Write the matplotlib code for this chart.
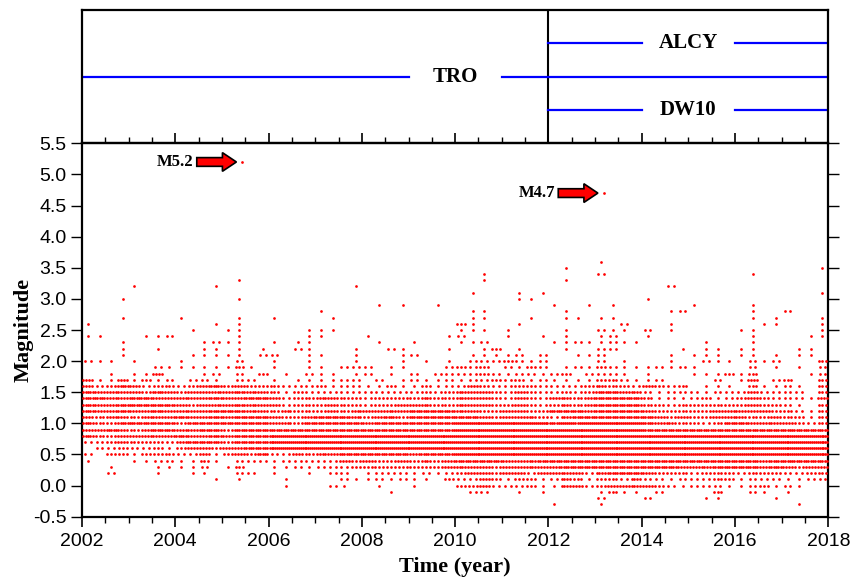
import numpy as np
import matplotlib.pyplot as plt
from matplotlib.patches import FancyArrow

plt.rcParams['axes.unicode_minus'] = False

SANS = 'Liberation Sans'
SERIF = 'Liberation Serif'

# catalogue: event counts per 0.25-year bin (2002-2018),
# one string per magnitude level, groups of 16 bins = 4 years
YEAR_START = 2002
BIN_WIDTH = 0.25

MAG_LEVELS = [3.6, 3.5, 3.4, 3.3, 3.2, 3.1, 3.0, 2.9, 2.8, 2.7,
              2.6, 2.5, 2.4, 2.3, 2.2, 2.1, 2.0, 1.9, 1.8, 1.7,
              1.6, 1.5, 1.4, 1.3, 1.2, 1.1, 1.0, 0.9, 0.8, 0.7,
              0.6, 0.5, 0.4, 0.3, 0.2, 0.1, 0.0, -0.1, -0.2, -0.3]

EVENT_COUNTS = [
    "0000000000000000 0000000000000000 0000000000001000 0000000000000000",  # 3.6
    "0000000000000000 0000000000000000 0000000001000000 0000000000000001",  # 3.5
    "0000000000000000 0000000000000000 0010000000002000 0000000001000000",  # 3.4
    "0000000000000100 0000000000000000 0010000001000000 0000000000000000",  # 3.3
    "0000100000010000 0000000100000000 0000000000000000 0020000000000000",  # 3.2
    "0000000000000000 0000000000000000 0100010100000000 0000000000000001",  # 3.1
    "0001000000000100 0000000000000000 0000011000000000 1000000000000000",  # 3.0
    "0000000000000000 0000000001010010 0000000010010100 0000100001000000",  # 2.9
    "0000000000000000 0000100000000000 0110000001000000 0012000001002000",  # 2.8
    "0001000010000100 1000010000000000 0110001001101100 0000000001010001",  # 2.7
    "1000000000010100 0000000000000000 3100010000000020 0010000000110001",  # 2.6
    "0000000001001100 0001110000000000 1110100001002110 2010000011000001",  # 2.5
    "1100011200000100 0001100010000001 2000100101001200 1000000001000011",  # 2.4
    "0001000000121100 1011000001001000 1120000011211211 0000010001000000",  # 2.3
    "0001001000110101 0021000100210001 0013010001002200 0001011011000110",  # 2.2
    "0001000001111102 2001100100012000 0111120200112000 0010111011010110",  # 2.1
    "2110100010000200 1001000100010101 0222321200002010 0010021102120003",  # 2.0
    "0000002111111310 1001102220110002 3230213201213211 1212100002010102",  # 1.9
    "0010114000120203 0102110120102022 2232122123022210 1000111313000012",  # 1.8
    "4114131202210220 1011112202012112 1223231211113321 1200002014023003",  # 1.7
    "4235423323453433 3222312211311312 2432233222234332 4323011103112103",  # 1.6
    "5444435434444544 3132222222222323 4443243223235544 2122212224222203",  # 1.5
    "5544554444454455 4233443323333433 4443243244345555 3121231234322214",  # 1.4
    "5445555543444544 4233343323344433 4443343234345555 3323333334332103",  # 1.3
    "5445445444455544 3433343444445555 4433443355545555 4333334444433213",  # 1.2
    "4344344454454555 4334555434535555 5543444324555555 5434334443343313",  # 1.1
    "5335555535555555 4435555545555555 6666666656566666 5443323554444323",  # 1.0
    "4454345544553555 5555555555555555 6666666666666666 5555555555555555",  # 0.9
    "5334444454454555 6666666666666666 6666666666666666 6666666666666666",  # 0.8
    "2234333245553555 6666666666666666 6666666666666666 6666666666666666",  # 0.7
    "0223223134434455 6666666666666666 6666666666666666 6666666666666666",  # 0.6
    "2033133322413435 2243445555554555 6666666666666666 6666666666666666",  # 0.5
    "1000112211310222 1222224343343434 5555444555555555 5555555555455555",  # 0.4
    "0010001111201300 1121222333333334 4443444445555555 5554445555454344",  # 0.3
    "0020001001100220 1001022012221212 3443442444424555 4333233323332233",  # 0.2
    "0000000000010100 0100002112121103 2243133124313324 2212223312221122",  # 0.1
    "0000000000000000 0100021001001000 3342223114423444 4321222112312100",  # 0.0
    "0000000000000000 0000000000100000 0220010100001311 0200003002101000",  # -0.1
    "0000000000000000 0000000000000000 0000000000002000 2000011000010000",  # -0.2
    "0000000000000000 0000000000000000 0000000010001000 0000000000000100",  # -0.3
]

BIG_TIMES = [2005.44, 2013.19]
BIG_MAGS = [5.2, 4.7]
BIG_LABELS = ['M5.2', 'M4.7']

STATIONS = ['TRO', 'ALCY', 'DW10']
STATION_START = [2002, 2012, 2012]
STATION_END = [2018, 2018, 2018]
STATION_ROW = [0.5, 0.75, 0.25]
STATION_LABEL_AT = [2010, 2015, 2015]
NETWORK_CHANGE = 2012


def expand_catalogue():
    times, mags = [], []
    for mag, row in zip(MAG_LEVELS, EVENT_COUNTS):
        row = row.replace(' ', '')
        for i, c in enumerate(row):
            n = int(c)
            for k in range(n):
                times.append(YEAR_START + BIN_WIDTH * (i + (k + 0.5) / n))
                mags.append(mag)
    return np.array(times), np.array(mags)


def main():
    times, mags = expand_catalogue()

    fig = plt.figure(figsize=(8.58, 5.79), dpi=100)
    ax = fig.add_axes([0.0956, 0.1076, 0.8698, 0.6449])
    ax_top = fig.add_axes([0.0956, 0.7525, 0.8698, 0.2302])

    # ---- seismicity panel
    ax.scatter(times, mags, s=3.8, c='#ff0000', marker='o', linewidths=0, zorder=3)
    ax.scatter(BIG_TIMES, BIG_MAGS, s=3.8, c='#ff0000', marker='o', linewidths=0, zorder=3)

    for t, m, lab in zip(BIG_TIMES, BIG_MAGS, BIG_LABELS):
        tip = t - 0.13
        start = tip - 0.85
        ax.add_patch(FancyArrow(start, m, tip - start, 0, width=0.14, head_width=0.30,
                                head_length=0.30, length_includes_head=True,
                                fc='#ff0000', ec='black', lw=1.2, zorder=4))
        ax.text(start - 0.07, m, lab, ha='right', va='center', fontsize=12,
                fontweight='bold', family=SERIF)

    ax.set_xlim(2002, 2018)
    ax.set_ylim(-0.5, 5.5)
    ax.set_xticks(range(2002, 2019, 2))
    ax.set_xticks(np.arange(2002, 2018.01, 0.5), minor=True)
    yt = np.arange(-0.5, 5.51, 0.5)
    ax.set_yticks(yt)
    ax.set_yticklabels(['%.1f' % v for v in yt])
    ax.tick_params(axis='x', which='major', direction='out', length=7, width=1.2,
                   top=True, labelsize=14, pad=5)
    ax.tick_params(axis='x', which='minor', direction='out', length=4, width=1.0, top=True)
    ax.tick_params(axis='y', which='major', direction='out', length=8, width=1.0,
                   right=True, labelsize=14, pad=3)
    for lab in ax.get_xticklabels() + ax.get_yticklabels():
        lab.set_family(SANS)
    for sp in ax.spines.values():
        sp.set_linewidth(1.6)

    # ---- station operation panel
    ax_top.set_facecolor('none')
    ax_top.set_xlim(2002, 2018)
    ax_top.set_ylim(0, 1)
    ax_top.set_xticks([])
    ax_top.set_yticks([])
    for sp in ax_top.spines.values():
        sp.set_linewidth(1.6)
    ax_top.axvline(NETWORK_CHANGE, color='black', lw=1.5)
    for name, t0, t1, row, lab_t in zip(STATIONS, STATION_START, STATION_END,
                                        STATION_ROW, STATION_LABEL_AT):
        ax_top.plot([t0, lab_t - 1], [row, row], color='#0000ff', lw=1.6)
        ax_top.plot([lab_t + 1, t1], [row, row], color='#0000ff', lw=1.6)
        ax_top.text(lab_t, row, name, ha='center', va='center', fontsize=15,
                    fontweight='bold', family=SERIF)

    fig.text(0.027, 0.43, 'Magnitude', rotation=90, ha='center', va='center',
             fontsize=16, fontweight='bold', family=SERIF)
    fig.text(0.530, 0.021, 'Time (year)', ha='center', va='center',
             fontsize=16, fontweight='bold', family=SERIF)

    fig.savefig('out.png', dpi=100, facecolor='w')
    plt.close('all')


if __name__ == '__main__':
    main()
